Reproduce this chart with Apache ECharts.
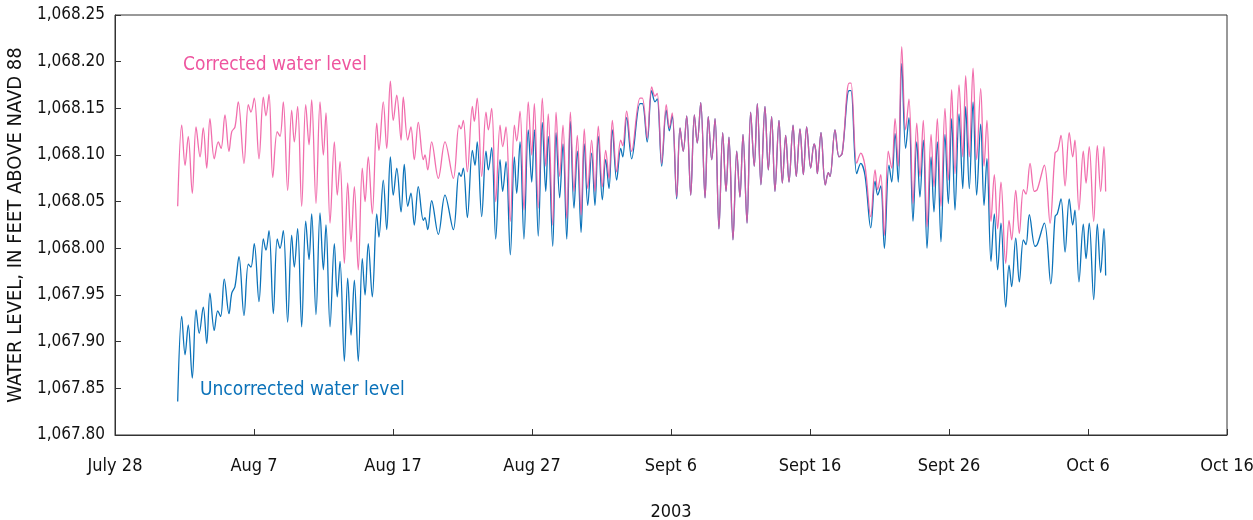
<!DOCTYPE html>
<html>
<head>
<meta charset="utf-8">
<script src="https://cdn.jsdelivr.net/npm/echarts@6/dist/echarts.min.js"></script>
<style>
  html, body { margin: 0; padding: 0; background: #fff; }
  #chart { width: 1253px; height: 520px; }
</style>
</head>
<body>
<div id="chart"></div>
<script>
// x = days after July 28, 2003 ; y = water level, feet above NAVD 88
var tickLabels = ['July 28', 'Aug 7', 'Aug 17', 'Aug 27', 'Sept 6', 'Sept 16', 'Sept 26', 'Oct 6', 'Oct 16'];

var correctedEarly = [
  [4.51,1068.045],[4.80,1068.132],[5.04,1068.089],[5.27,1068.120],[5.56,1068.059],[5.83,1068.130],
  [6.12,1068.098],[6.35,1068.129],[6.60,1068.086],[6.83,1068.139],[7.14,1068.096],[7.43,1068.114],
  [7.63,1068.107],[7.91,1068.143],[8.20,1068.104],[8.40,1068.125],[8.63,1068.130],[8.87,1068.157],
  [9.28,1068.091],[9.59,1068.154],[9.78,1068.146],[10.02,1068.161],[10.36,1068.096],[10.67,1068.162],
  [10.86,1068.142],[11.08,1068.165],[11.35,1068.076],[11.67,1068.125],[11.87,1068.120],[12.11,1068.157],
  [12.42,1068.062],[12.71,1068.148],[12.90,1068.114],[13.14,1068.152],[13.43,1068.045],[13.72,1068.154],
  [13.96,1068.111],[14.15,1068.159],[14.46,1068.048],[14.75,1068.157],[14.99,1068.100],[15.18,1068.145],
  [15.47,1068.027],[15.78,1068.114],[15.99,1068.057],[16.19,1068.093],[16.50,1067.984],[16.74,1068.070],
  [16.98,1068.007],[17.22,1068.066],[17.50,1067.977],[17.79,1068.086],[17.99,1068.050],[18.22,1068.098],
  [18.51,1068.037],[18.83,1068.134],[18.99,1068.105],[19.30,1068.157],[19.55,1068.107],[19.81,1068.179],
  [20.02,1068.137],[20.27,1068.164],[20.58,1068.116],[20.74,1068.162],[21.06,1068.116],[21.29,1068.130],
  [21.53,1068.095],[21.82,1068.135],[22.18,1068.095],[22.30,1068.100],[22.50,1068.084],[22.78,1068.114],
  [23.26,1068.075],[23.74,1068.114],[24.34,1068.075],[24.75,1068.132],[24.89,1068.128],[25.06,1068.137],
  [25.35,1068.082],[25.71,1068.152],[25.85,1068.136],[26.06,1068.161],[26.38,1068.077],[26.69,1068.146],
  [26.86,1068.127],[27.10,1068.150],[27.39,1068.050],[27.70,1068.132],[27.89,1068.109],[28.13,1068.130],
  [28.44,1068.029],[28.73,1068.132],[28.90,1068.115],[29.14,1068.147],[29.42,1068.041],[29.73,1068.157],
  [29.98,1068.100],[30.17,1068.155],[30.45,1068.043],[30.74,1068.161],[30.99,1068.088],[31.17,1068.144],
  [31.49,1068.025],[31.73,1068.146],[31.99,1068.077],[32.23,1068.132],[32.50,1068.032],[32.76,1068.146],
  [33.02,1068.061],[33.26,1068.121],[33.53,1068.036],[33.76,1068.128],[34.01,1068.064],[34.29,1068.116],
  [34.53,1068.061],[34.77,1068.131],[35.06,1068.066],[35.30,1068.105],[35.54,1068.075],[35.78,1068.137],
  [36.09,1068.082],[36.38,1068.116],[36.53,1068.110],[36.81,1068.147],[37.17,1068.104],[37.77,1068.161],
  [37.94,1068.161],[38.29,1068.118],[38.61,1068.173],[38.85,1068.163],[39.01,1068.166],[39.33,1068.091],
  [39.66,1068.154],[39.88,1068.129],[40.09,1068.145],[40.41,1068.055]
];

var uncorrectedEarly = [
  [4.51,1067.836],[4.80,1067.927],[5.04,1067.886],[5.27,1067.918],[5.56,1067.861],[5.83,1067.934],
  [6.06,1067.909],[6.35,1067.937],[6.60,1067.898],[6.83,1067.952],[7.14,1067.912],[7.39,1067.933],
  [7.60,1067.927],[7.86,1067.967],[8.20,1067.930],[8.40,1067.952],[8.63,1067.959],[8.92,1067.991],
  [9.28,1067.928],[9.59,1067.983],[9.78,1067.980],[10.02,1068.005],[10.36,1067.943],[10.67,1068.010],
  [10.86,1067.998],[11.08,1068.019],[11.39,1067.930],[11.67,1068.010],[11.87,1068.000],[12.11,1068.019],
  [12.42,1067.921],[12.71,1068.014],[12.90,1067.980],[13.14,1068.021],[13.43,1067.916],[13.72,1068.029],
  [13.96,1067.988],[14.15,1068.037],[14.46,1067.929],[14.75,1068.038],[14.99,1067.977],[15.18,1068.025],
  [15.47,1067.916],[15.78,1068.005],[15.99,1067.948],[16.19,1067.986],[16.50,1067.879],[16.74,1067.968],
  [16.98,1067.907],[17.22,1067.966],[17.50,1067.879],[17.79,1067.989],[17.99,1067.950],[18.22,1068.005],
  [18.51,1067.948],[18.83,1068.037],[18.99,1068.012],[19.30,1068.073],[19.55,1068.020],[19.81,1068.098],
  [20.02,1068.057],[20.27,1068.086],[20.58,1068.039],[20.81,1068.090],[21.06,1068.045],[21.29,1068.059],
  [21.53,1068.025],[21.82,1068.066],[22.18,1068.030],[22.30,1068.033],[22.50,1068.020],[22.78,1068.051],
  [23.26,1068.015],[23.74,1068.057],[24.34,1068.020],[24.75,1068.081],[24.89,1068.077],[25.06,1068.086],
  [25.35,1068.033],[25.71,1068.105],[25.90,1068.089],[26.06,1068.114],[26.38,1068.034],[26.69,1068.104],
  [26.86,1068.084],[27.10,1068.108],[27.39,1068.010],[27.70,1068.095],[27.89,1068.061],[28.13,1068.093],
  [28.44,1067.993],[28.73,1068.098],[28.90,1068.059],[29.14,1068.114],[29.42,1068.010],[29.73,1068.127],
  [29.98,1068.071],[30.17,1068.127],[30.45,1068.013],[30.74,1068.135],[30.99,1068.061],[31.17,1068.120],
  [31.49,1068.002],[31.73,1068.124],[31.99,1068.054],[32.23,1068.112],[32.50,1068.010],[32.76,1068.136],
  [33.02,1068.043],[33.26,1068.104],[33.53,1068.017],[33.76,1068.112],[34.01,1068.046],[34.29,1068.102],
  [34.53,1068.046],[34.77,1068.120],[35.06,1068.052],[35.30,1068.095],[35.54,1068.064],[35.78,1068.127],
  [36.09,1068.073],[36.38,1068.107],[36.53,1068.098],[36.81,1068.140],[37.17,1068.096],[37.77,1068.155],
  [37.94,1068.155],[38.29,1068.114],[38.61,1068.169],[38.85,1068.157],[39.01,1068.160],[39.33,1068.088],
  [39.66,1068.148],[39.88,1068.126],[40.09,1068.142],[40.41,1068.053]
];

// Sept 6 - Sept 18: both records lie on top of each other
var bothMid = [
  [40.65,1068.129],[40.88,1068.104],[41.13,1068.142],[41.42,1068.057],[41.68,1068.143],[41.89,1068.113],
  [42.14,1068.156],[42.45,1068.054],[42.68,1068.141],[42.93,1068.095],[43.17,1068.139],[43.45,1068.021],
  [43.72,1068.124],[43.96,1068.061],[44.17,1068.119],[44.46,1068.009],[44.73,1068.104],[44.96,1068.055],
  [45.18,1068.122],[45.47,1068.027],[45.73,1068.146],[45.99,1068.088],[46.21,1068.155],[46.47,1068.068],
  [46.76,1068.152],[47.00,1068.084],[47.24,1068.141],[47.48,1068.061],[47.77,1068.137],[48.01,1068.070],
  [48.25,1068.121],[48.49,1068.071],[48.78,1068.132],[49.01,1068.077],[49.28,1068.128],[49.52,1068.079],
  [49.76,1068.130],[50.05,1068.086],[50.29,1068.112],[50.41,1068.105],[50.53,1068.080],[50.79,1068.124],
  [51.10,1068.068],[51.32,1068.081],[51.44,1068.077],[51.80,1068.127],[52.09,1068.098],[52.32,1068.102]
];

var correctedLate = [
  [52.81,1068.177],[52.95,1068.177],[53.36,1068.091],[53.65,1068.102],[53.96,1068.088],[54.37,1068.034],
  [54.68,1068.084],[54.87,1068.063],[55.09,1068.079],[55.35,1068.014],[55.63,1068.104],[55.88,1068.086],
  [56.12,1068.139],[56.35,1068.088],[56.60,1068.216],[56.88,1068.127],[57.12,1068.160],[57.41,1068.048],
  [57.68,1068.134],[57.91,1068.077],[58.15,1068.137],[58.42,1068.023],[58.71,1068.122],[58.92,1068.066],
  [59.16,1068.139],[59.42,1068.045],[59.71,1068.150],[59.95,1068.073],[60.19,1068.170],[60.43,1068.080],
  [60.72,1068.175],[60.99,1068.098],[61.20,1068.185],[61.46,1068.098],[61.73,1068.193],[61.99,1068.095],
  [62.28,1068.171],[62.52,1068.088],[62.73,1068.137],[63.02,1068.029],[63.26,1068.079],[63.50,1068.021],
  [63.74,1068.071],[64.08,1067.984],[64.32,1068.030],[64.51,1068.009],[64.80,1068.062],[65.06,1068.016],
  [65.35,1068.063],[65.54,1068.058],[65.83,1068.091],[66.14,1068.061],[66.35,1068.063],[66.86,1068.089],
  [67.27,1068.027],[67.63,1068.102],[67.82,1068.105],[68.06,1068.121],[68.35,1068.067],[68.65,1068.124],
  [68.90,1068.098],[69.06,1068.116],[69.35,1068.041],[69.66,1068.104],[69.86,1068.070],[70.09,1068.109],
  [70.41,1068.029],[70.67,1068.110],[70.91,1068.061],[71.15,1068.109],[71.27,1068.061]
];

var uncorrectedLate = [
  [52.81,1068.169],[52.95,1068.169],[53.36,1068.080],[53.65,1068.091],[53.96,1068.078],[54.37,1068.022],
  [54.68,1068.072],[54.87,1068.057],[55.09,1068.067],[55.35,1068.000],[55.68,1068.089],[55.88,1068.071],
  [56.12,1068.123],[56.35,1068.071],[56.60,1068.198],[56.88,1068.107],[57.12,1068.140],[57.41,1068.029],
  [57.68,1068.114],[57.91,1068.055],[58.15,1068.116],[58.42,1068.000],[58.71,1068.098],[58.92,1068.039],
  [59.16,1068.114],[59.42,1068.007],[59.71,1068.122],[59.95,1068.048],[60.19,1068.139],[60.43,1068.041],
  [60.72,1068.144],[60.99,1068.064],[61.20,1068.152],[61.46,1068.064],[61.73,1068.157],[61.99,1068.057],
  [62.28,1068.133],[62.52,1068.046],[62.73,1068.096],[63.02,1067.986],[63.26,1068.037],[63.50,1067.977],
  [63.74,1068.027],[64.08,1067.937],[64.32,1067.982],[64.51,1067.959],[64.80,1068.011],[65.06,1067.964],
  [65.35,1068.009],[65.54,1068.004],[65.78,1068.036],[66.19,1068.002],[66.35,1068.004],[66.86,1068.027],
  [67.32,1067.962],[67.63,1068.034],[67.79,1068.037],[68.06,1068.053],[68.35,1067.996],[68.65,1068.053],
  [68.90,1068.025],[69.06,1068.041],[69.35,1067.964],[69.66,1068.026],[69.86,1067.989],[70.09,1068.027],
  [70.41,1067.945],[70.67,1068.026],[70.91,1067.974],[71.15,1068.021],[71.27,1067.971]
];

var corrected = correctedEarly.concat(bothMid, correctedLate);
var uncorrected = uncorrectedEarly.concat(bothMid, uncorrectedLate);

var pink = '#EE559F';
var blue = '#0B72B9';
var font = "'DejaVu Sans Condensed', 'Liberation Sans Narrow', sans-serif";

function levelLabel(v) {
  var s = v.toFixed(2);
  return s.slice(0, 1) + ',' + s.slice(1);
}

var chart = echarts.init(document.getElementById('chart'));
chart.setOption({
  animation: false,
  textStyle: { fontFamily: font },
  grid: {
    left: 115, right: 26, top: 15, bottom: 85,
    outerBoundsMode: 'none',
    containLabel: false,
    show: true, borderColor: '#333', borderWidth: 1
  },
  xAxis: {
    type: 'value',
    min: 0, max: 80, interval: 10,
    name: '2003',
    nameLocation: 'middle',
    nameGap: 68,
    nameTextStyle: { fontSize: 18, color: '#111', fontFamily: font },
    axisLine: { lineStyle: { color: '#333', width: 1 } },
    axisTick: { inside: true, length: 6, lineStyle: { color: '#333' } },
    axisLabel: {
      fontSize: 18, color: '#111', margin: 22, fontFamily: font,
      formatter: function (v) { return tickLabels[Math.round(v / 10)]; }
    },
    splitLine: { show: false }
  },
  yAxis: {
    type: 'value',
    min: 1067.8, max: 1068.25, interval: 0.05,
    name: 'WATER LEVEL, IN FEET ABOVE NAVD 88',
    nameLocation: 'middle',
    nameRotate: 90,
    nameGap: 82,
    nameTextStyle: { fontSize: 20, color: '#111', fontFamily: font },
    axisLine: { show: true, lineStyle: { color: '#333', width: 1 } },
    axisTick: { show: true, inside: true, length: 6, lineStyle: { color: '#333' } },
    axisLabel: { fontSize: 17, color: '#111', margin: 10, fontFamily: font, formatter: levelLabel },
    splitLine: { show: false }
  },
  series: [
    {
      name: 'Uncorrected water level',
      type: 'line',
      data: uncorrected,
      showSymbol: false,
      smooth: 0.35,
      lineStyle: { color: blue, width: 1.3 }
    },
    {
      name: 'Corrected water level',
      type: 'line',
      data: corrected,
      showSymbol: false,
      smooth: 0.35,
      lineStyle: { color: pink, width: 1.3, opacity: 0.85 }
    }
  ],
  graphic: [
    {
      type: 'text', left: 183, top: 56,
      style: { text: 'Corrected water level', fill: pink, fontSize: 19, fontFamily: font }
    },
    {
      type: 'text', left: 200, top: 381,
      style: { text: 'Uncorrected water level', fill: blue, fontSize: 19, fontFamily: font }
    }
  ]
});
</script>
</body>
</html>
